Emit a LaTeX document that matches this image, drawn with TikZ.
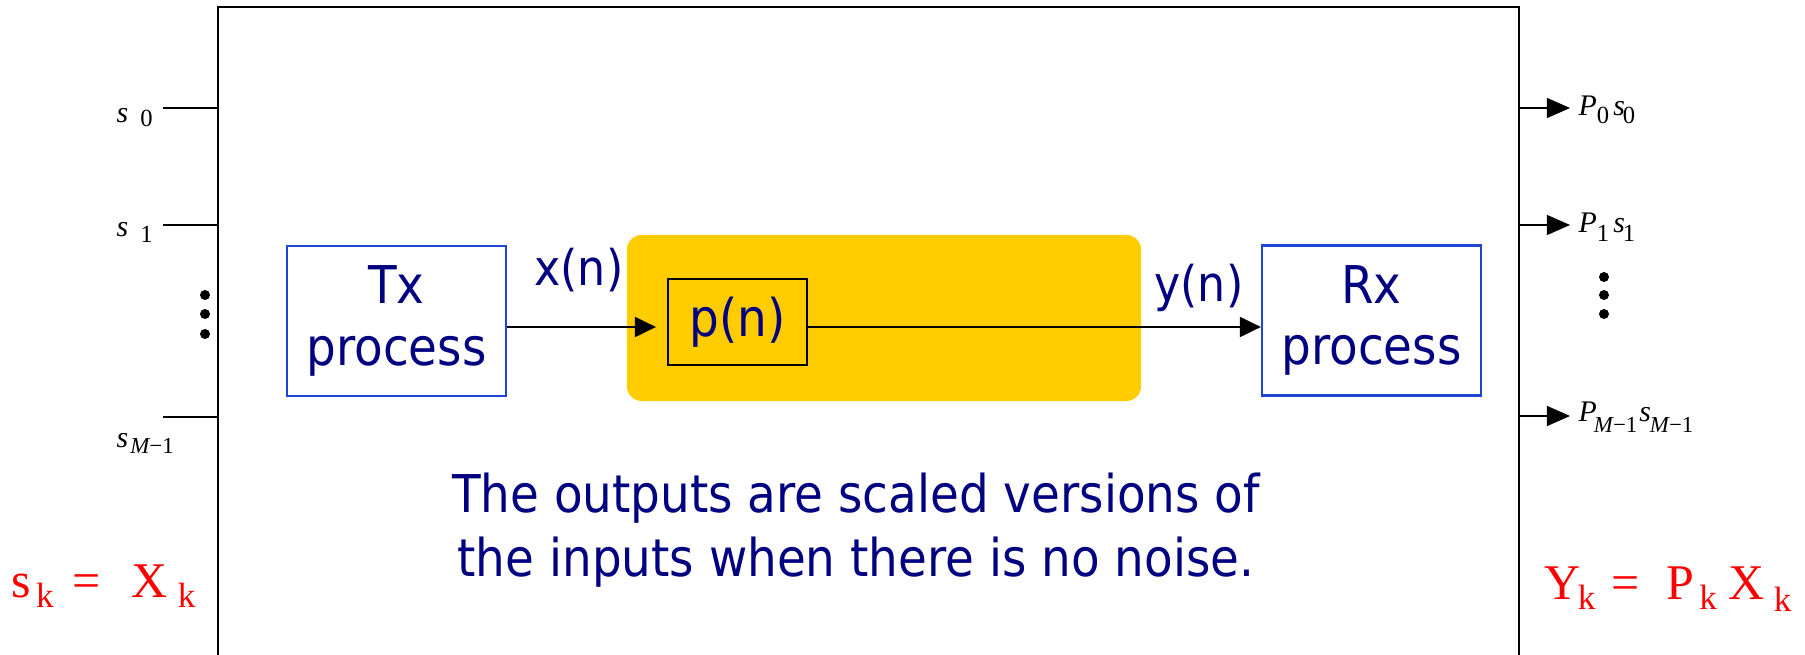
\documentclass[tikz,border=0pt]{standalone}
\usepackage{fontspec}
\setmainfont{Liberation Serif}
\setsansfont{DejaVu Sans}[FakeStretch=0.9]
\usepackage{tikz}
\usetikzlibrary{arrows.meta,positioning}
\definecolor{navytext}{RGB}{0,0,128}
\definecolor{boxblue}{RGB}{30,70,210}
\definecolor{chanyellow}{RGB}{255,204,0}
\definecolor{eqred}{RGB}{255,0,0}
\newcommand{\lowsub}[3]{\raisebox{-#1}{\fontsize{#2}{#2}\selectfont #3}}
\tikzset{
  procbox/.style={draw=boxblue, line width=0.6pt, fill=white, align=center, inner sep=0pt, text=navytext, font=\sffamily\fontsize{14.8}{17.4}\selectfont, minimum width=2.19cm, minimum height=1.5cm, execute at begin node=\rule{0pt}{1em}},
  pnbox/.style={draw=black, line width=0.6pt, inner sep=0pt, text=navytext, font=\sffamily\fontsize{14.8}{17.4}\selectfont, minimum width=1.39cm, minimum height=0.86cm},
  chanbox/.style={fill=chanyellow, rounded corners=0.15cm, inner sep=0pt, minimum width=5.14cm, minimum height=1.66cm},
  sig/.style={text=navytext, inner sep=0pt, font=\sffamily\fontsize{14}{16}\selectfont},
  note/.style={text=navytext, align=center, inner sep=0pt, font=\sffamily\fontsize{14.8}{18.2}\selectfont},
  sysframe/.style={draw=black, line width=0.75pt},
  feed/.style={draw=black, line width=0.3pt},
  outarrow/.style={-{Triangle[length=0.23cm,width=0.2cm]}, line width=0.3pt},
  flow/.style={-{Triangle[length=0.21cm,width=0.2cm]}, line width=0.6pt},
  dot/.style={circle, fill=black, minimum size=0.1cm, inner sep=0pt},
  inlbl/.style={anchor=base west, inner sep=0pt, font=\fontsize{8.5}{10}\selectfont},
  outlbl/.style={anchor=base west, inner sep=0pt, font=\fontsize{8.5}{10}\selectfont},
  eqlbl/.style={anchor=base west, inner sep=0pt, text=eqred, font=\fontsize{14.2}{16}\selectfont}
}
\begin{document}
\begin{tikzpicture}[x=0.01cm, y=-0.01cm]
\useasboundingbox (0,0) rectangle (1805,655);
% system frame (open at the bottom)
\draw[sysframe] (218,660) -- (218,7) -- (1519,7) -- (1519,660);
\coordinate (fl) at (218,0);
\coordinate (fr) at (1519,0);
% channel
\node[chanbox] (chan) at (884,318) {};
\node[pnbox] (pn) at (737.5,322) {p(n)};
% tx / rx
\node[procbox] (tx) at (396.5,321) {Tx\\process};
\node[procbox] (rx) at (1371.5,320.5) {Rx\\process};
\node[sig, anchor=east] (xlab) at (624,270) {x(n)};
\node[sig, anchor=east] (ylab) at (1244,288) {y(n)};
\coordinate (flowy) at (0,327);
\draw[flow, shorten >=0.11cm] (tx.east |- flowy) -- (pn.west |- flowy);
\draw[flow] (pn.east |- flowy) -- (rx.west |- flowy);
% inputs
\coordinate (in0) at (163,108);
\coordinate (in1) at (163,225);
\coordinate (inM) at (163,417);
\draw[feed] (in0) -- (in0 -| fl);
\draw[feed] (in1) -- (in1 -| fl);
\draw[feed] (inM) -- (inM -| fl);
\node[inlbl] (s0) at (116,123) {\itshape s\hspace{0.12cm}\lowsub{0.04cm}{7}{\upshape 0}};
\node[inlbl] (s1) at (116,237) {\itshape s\hspace{0.12cm}\lowsub{0.06cm}{7}{\upshape 1}};
\node[inlbl] (sM) at (116,448) {\itshape s\hspace{0.02cm}\lowsub{0.06cm}{6.5}{M\upshape −1}};
\node[dot] (ld1) at (205,295) {};
\node[dot] (ld2) at (205,314) {};
\node[dot] (ld3) at (205,334) {};
% outputs
\coordinate (out0) at (1570,108);
\coordinate (out1) at (1570,225);
\coordinate (outM) at (1570,416);
\draw[outarrow] (out0 -| fr) -- (out0);
\draw[outarrow] (out1 -| fr) -- (out1);
\draw[outarrow] (outM -| fr) -- (outM);
\node[outlbl] (p0) at (1578,116) {\itshape P\lowsub{0.08cm}{7}{\upshape 0}\hspace{0.04cm}s\hspace{-0.02cm}\lowsub{0.08cm}{7}{\upshape 0}};
\node[outlbl] (p1) at (1578,233) {\itshape P\lowsub{0.08cm}{7}{\upshape 1}\hspace{0.04cm}s\hspace{-0.02cm}\lowsub{0.08cm}{7}{\upshape 1}};
\node[outlbl] (pM) at (1578,422) {\itshape P\hspace{-0.03cm}\lowsub{0.1cm}{6.5}{M\upshape −1}\hspace{0.02cm}s\hspace{-0.01cm}\lowsub{0.1cm}{6.5}{M\upshape −1}};
\node[dot] (rd1) at (1604,277) {};
\node[dot] (rd2) at (1604,295) {};
\node[dot] (rd3) at (1604,314) {};
% remark and relations
\node[note] (remark) at (856,530) {The outputs are scaled versions of\\the inputs when there is no noise.};
\node[eqlbl] (inrel) at (11,598) {s\hspace{0.05cm}\lowsub{0.09cm}{10}{k}\hspace{0.19cm}=\hspace{0.31cm}X\hspace{0.1cm}\lowsub{0.09cm}{10}{k}};
\node[eqlbl] (outrel) at (1544,600) {Y\hspace{-0.03cm}\lowsub{0.09cm}{10}{k}\hspace{0.16cm}=\hspace{0.27cm}P\hspace{0.05cm}\lowsub{0.09cm}{10}{k}\hspace{0.12cm}X\hspace{0.09cm}\lowsub{0.11cm}{10}{k}};
\end{tikzpicture}
\end{document}
